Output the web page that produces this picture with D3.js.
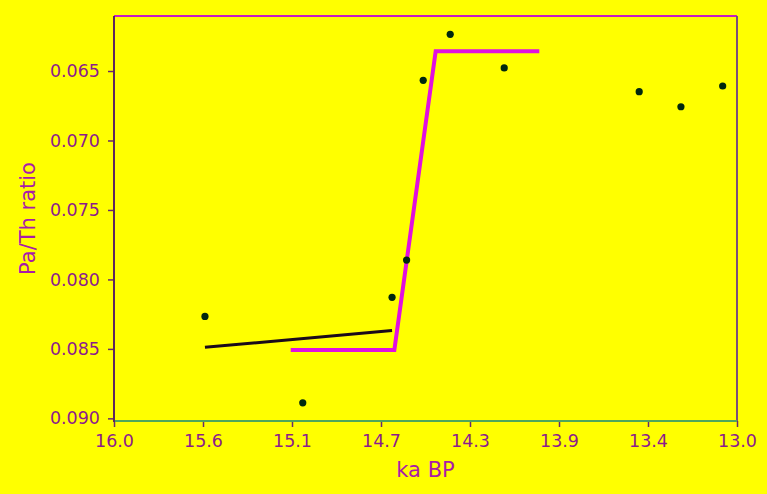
<!DOCTYPE html>
<html>
<head>
<meta charset="utf-8">
<script src="https://cdn.jsdelivr.net/npm/d3@7"></script>
<style>
  html, body { margin: 0; padding: 0; background: #ffff00; }
  svg { display: block; }
  text { font-family: "DejaVu Sans", sans-serif; }
</style>
</head>
<body>
<svg id="chart" width="767" height="494"></svg>
<script>
// Pa/Th ratio against age (ka BP), both axes reversed
const ageKa = [15.562, 15.091, 14.661, 14.591, 14.511, 14.381, 14.121, 13.471, 13.270, 13.069];
const paTh  = [0.08266, 0.08888, 0.08129, 0.07861, 0.06567, 0.06236, 0.06478, 0.06649, 0.06757, 0.06608];

// linear trend before the transition
const trendAge = [15.562, 14.661];
const trendVal = [0.08489, 0.08367];

// step fit across the transition
const stepAge = [15.149, 14.650, 14.451, 13.952];
const stepVal = [0.08508, 0.08508, 0.06358, 0.06358];

const xTicks = [16.0, 16 - 3 / 7, 16 - 6 / 7, 16 - 9 / 7, 16 - 12 / 7, 16 - 15 / 7, 16 - 18 / 7, 13.0];
const yTicks = [0.065, 0.070, 0.075, 0.080, 0.085, 0.090];

const svg = d3.select("#chart");
const plot = { left: 114, right: 737, top: 16, bottom: 421 };

const x = d3.scaleLinear().domain([16.0, 13.0]).range([plot.left, plot.right]);
const y = d3.scaleLinear().domain([0.06104, 0.09019]).range([plot.top, plot.bottom]);

const labelColor = "#8c1c8c";
const titleColor = "#a81ca8";
const tickColor = "#6a2a6a";

// y axis
const yAxis = svg.append("g")
  .attr("transform", `translate(${plot.left},0)`)
  .call(d3.axisLeft(y).tickValues(yTicks).tickFormat(d3.format(".3f")).tickSize(6).tickPadding(8));
yAxis.select(".domain").remove();
yAxis.selectAll(".tick line").attr("stroke", tickColor).attr("stroke-width", 1.5);
yAxis.selectAll(".tick text").attr("fill", labelColor).style("font-size", "17.5px");

// x axis
const xAxis = svg.append("g")
  .attr("transform", `translate(0,${plot.bottom})`)
  .call(d3.axisBottom(x).tickValues(xTicks).tickFormat(d3.format(".1f")).tickSize(6).tickPadding(8));
xAxis.select(".domain").remove();
xAxis.selectAll(".tick line").attr("stroke", tickColor).attr("stroke-width", 1.5);
xAxis.selectAll(".tick text").attr("fill", labelColor).style("font-size", "17.5px");

// frame
svg.append("line").attr("x1", plot.left).attr("x2", plot.right).attr("y1", plot.top).attr("y2", plot.top)
  .attr("stroke", "#c41ec4").attr("stroke-width", 2);
svg.append("line").attr("x1", plot.right).attr("x2", plot.right).attr("y1", plot.top).attr("y2", plot.bottom)
  .attr("stroke", "#7a4f7a").attr("stroke-width", 2);
svg.append("line").attr("x1", plot.left).attr("x2", plot.right).attr("y1", plot.bottom).attr("y2", plot.bottom)
  .attr("stroke", "#4fa65a").attr("stroke-width", 2);
svg.append("line").attr("x1", plot.left).attr("x2", plot.left).attr("y1", plot.top).attr("y2", plot.bottom + 1)
  .attr("stroke", "#5e255e").attr("stroke-width", 2);

// step fit
const line = d3.line().x(d => x(d[0])).y(d => y(d[1]));
svg.append("path")
  .datum(stepAge.map((a, i) => [a, stepVal[i]]))
  .attr("d", line)
  .attr("fill", "none")
  .attr("stroke", "#e010e0")
  .attr("stroke-width", 4);

// linear trend
svg.append("path")
  .datum(trendAge.map((a, i) => [a, trendVal[i]]))
  .attr("d", line)
  .attr("fill", "none")
  .attr("stroke", "#1a0a1a")
  .attr("stroke-width", 3);

// samples
svg.append("g").selectAll("circle")
  .data(ageKa.map((a, i) => [a, paTh[i]]))
  .join("circle")
  .attr("cx", d => x(d[0]))
  .attr("cy", d => y(d[1]))
  .attr("r", 3.6)
  .attr("fill", "#00280e");

// axis titles
svg.append("text")
  .attr("x", (plot.left + plot.right) / 2)
  .attr("y", 477)
  .attr("text-anchor", "middle")
  .attr("fill", titleColor)
  .style("font-size", "21px")
  .text("ka BP");

svg.append("text")
  .attr("transform", `translate(35,${(plot.top + plot.bottom) / 2}) rotate(-90)`)
  .attr("text-anchor", "middle")
  .attr("fill", titleColor)
  .style("font-size", "21px")
  .text("Pa/Th ratio");
</script>
</body>
</html>
